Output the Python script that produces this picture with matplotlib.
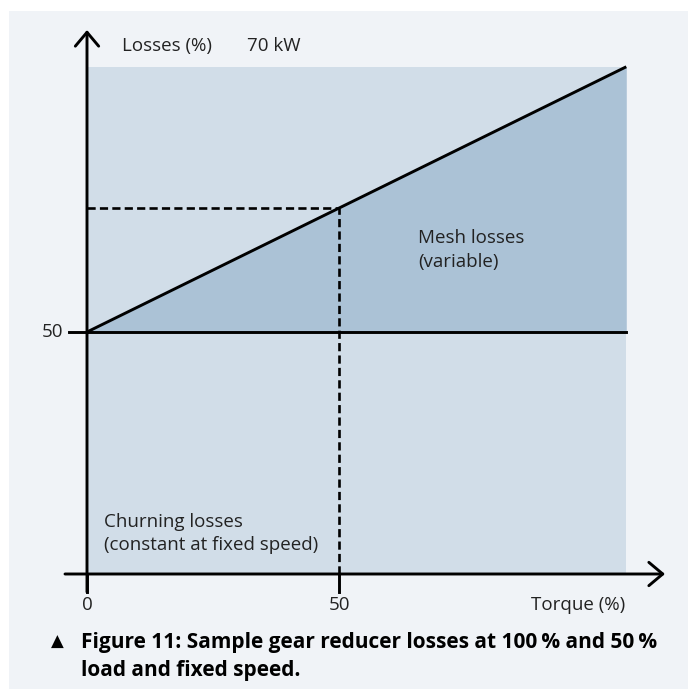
import matplotlib
matplotlib.use("Agg")
import matplotlib.pyplot as plt
from matplotlib.patches import Rectangle

# schematic values (torque %, losses %)
torque = [0, 50, 107]
losses = [50, 75.6, 104.8]
churning = 50
xticks = [0, 50]
yticks = [50]

W, H = 688, 689
x0px, xscale = 87, 5.04     # px of torque 0, px per %
y0px, yscale = 574, 4.84    # px of losses 0, px per %

bg = "#f0f3f7"
light = "#d1dde8"
dark = "#abc2d6"
txt = "#222222"
fs = 13.5

plt.rcParams['font.family'] = ['Open Sans', 'DejaVu Sans']


def dx(px):
    return (px - x0px) / xscale


def dy(py):
    return (y0px - py) / yscale


fig = plt.figure(figsize=(W / 100, H / 100), dpi=100)
fig.patches.append(Rectangle((9 / W, 0), 1, 1 - 11 / H, transform=fig.transFigure,
                             facecolor=bg, edgecolor="none", zorder=-5))

left, right, top, bottom = 30, 680, 20, 615
ax = fig.add_axes([left / W, 1 - bottom / H, (right - left) / W, (bottom - top) / H])
ax.set_xlim(dx(left), dx(right))
ax.set_ylim(dy(bottom), dy(top))
ax.set_axis_off()
ax.patch.set_alpha(0)

xmax = torque[-1]
ymax = losses[-1]
ax.fill_between([0, xmax], 0, ymax, color=light, lw=0, zorder=1)
ax.fill_between(torque, churning, losses, color=dark, lw=0, zorder=2)
ax.plot(torque, losses, color="black", lw=2.1, zorder=4, solid_capstyle="butt")
ax.plot([0, xmax], [churning, churning], color="black", lw=2.1, zorder=4)

# dashed guides at 50% torque
ax.plot([0, torque[1]], [losses[1], losses[1]], color="black", lw=1.9,
        dashes=(3.1, 1.6), zorder=4)
ax.plot([torque[1], torque[1]], [0, losses[1]], color="black", lw=1.9,
        dashes=(3.1, 1.6), zorder=4)

# axes with arrows
xa0, xa1 = dx(65), dx(665)
ya0, ya1 = dy(592), dy(30)
astyle = "->,head_length=0.5,head_width=0.42"
ax.annotate("", xy=(xa1, 0), xytext=(xa0, 0),
            arrowprops=dict(arrowstyle=astyle, lw=2.1, color="black", mutation_scale=20,
                            shrinkA=0, shrinkB=0), zorder=5)
ax.annotate("", xy=(0, ya1), xytext=(0, ya0),
            arrowprops=dict(arrowstyle=astyle, lw=2.1, color="black", mutation_scale=20,
                            shrinkA=0, shrinkB=0), zorder=5)

# ticks
for t in xticks:
    ax.plot([t, t], [ya0, 0], color="black", lw=2.1, zorder=5)
    ax.text(t, dy(605), str(t), ha="center", va="center", fontsize=fs, color=txt)
for t in yticks:
    ax.plot([dx(69), 0], [t, t], color="black", lw=2.1, zorder=5)
    ax.text(dx(63), t, str(t), ha="right", va="center", fontsize=fs, color=txt)

ax.text(dx(625), dy(605), "Torque (%)", ha="right", va="center", fontsize=fs, color=txt)
ax.text(dx(122), dy(46), "Losses (%)", ha="left", va="center", fontsize=fs, color=txt)
ax.text(dx(247), dy(46), "70 kW", ha="left", va="center", fontsize=fs, color=txt)
ax.text(dx(418), dy(250), "Mesh losses\n(variable)", ha="left", va="center",
        fontsize=fs, color=txt, linespacing=1.4)
ax.text(dx(104), dy(533.5), "Churning losses\n(constant at fixed speed)", ha="left",
        va="center", fontsize=fs, color=txt, linespacing=1.36)

# caption
fig.text(57 / W, 1 - 641.5 / H, "\u25b2", ha="center", va="center", fontsize=12,
         color="black", family=['DejaVu Sans'])
fig.text(81 / W, 1 - 656.5 / H,
         "Figure 11: Sample gear reducer losses at 100\u2009% and 50\u2009%\nload and fixed speed.",
         ha="left", va="center", fontsize=15, fontweight="bold", color="black",
         linespacing=1.42, family=['Open Sans', 'DejaVu Sans'])

fig.savefig("out.png", dpi=100, facecolor="white")
